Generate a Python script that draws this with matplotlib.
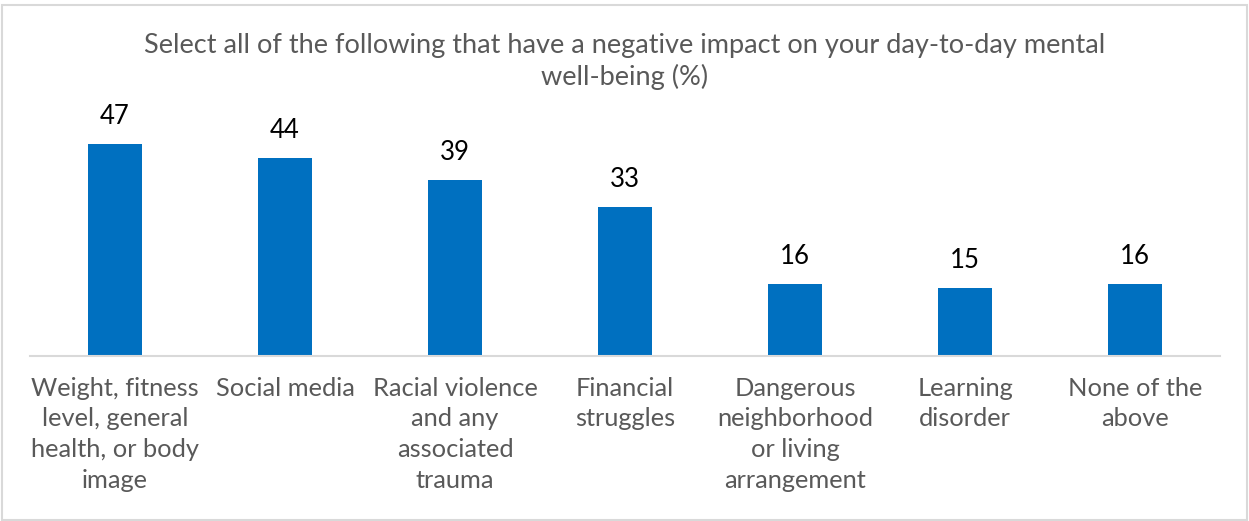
import matplotlib
matplotlib.use("Agg")
import matplotlib.pyplot as plt
from matplotlib.patches import Rectangle

categories = [
    "Weight, fitness\nlevel, general\nhealth, or body\nimage",
    "Social media",
    "Racial violence\nand any\nassociated\ntrauma",
    "Financial\nstruggles",
    "Dangerous\nneighborhood\nor living\narrangement",
    "Learning\ndisorder",
    "None of the\nabove",
]
values = [47, 44, 39, 33, 16, 15, 16]
title_lines = ["Select all of the following that have a negative impact on your day-to-day mental",
               "well-being (%)"]

plt.rcParams['font.family'] = ['Lato', 'DejaVu Sans']

W, H = 1249, 521
fig = plt.figure(figsize=(W/100, H/100), dpi=100)
fig.patches.append(Rectangle((1.5/W, 1.5/H), (W-4)/W, (H-6)/H, transform=fig.transFigure,
                             fill=False, edgecolor="#D9D9D9", linewidth=1.5))

left, right = 30, 1220
base_y = 356
scale = 4.51
ymax = 55
ax = fig.add_axes([left/W, (H-base_y)/H, (right-left)/W, ymax*scale/H])
x = list(range(len(values)))
ax.bar(x, values, width=54/((right-left)/7), color="#0070C0", zorder=2)
ax.set_xlim(-0.5, len(values)-0.5)
ax.set_ylim(0, ymax)
for xi, v in zip(x, values):
    ax.text(xi, v + 20/scale, str(v), ha="center", va="baseline", fontsize=18.5, color="#000000")
for s in ["top", "right", "left"]:
    ax.spines[s].set_visible(False)
ax.spines["bottom"].set_color("#D9D9D9")
ax.spines["bottom"].set_linewidth(1.5)
ax.set_yticks([])
ax.set_xticks(x)
ax.set_xticklabels(categories, fontsize=18.3, color="#595959", linespacing=1.40)
ax.tick_params(axis="x", length=0, pad=15)

for i, line in enumerate(title_lines):
    fig.text(625/W, 1 - (53 + 32*i)/H, line, ha="center", va="baseline", fontsize=19.5,
             color="#595959")

fig.savefig("out.png", dpi=100)
